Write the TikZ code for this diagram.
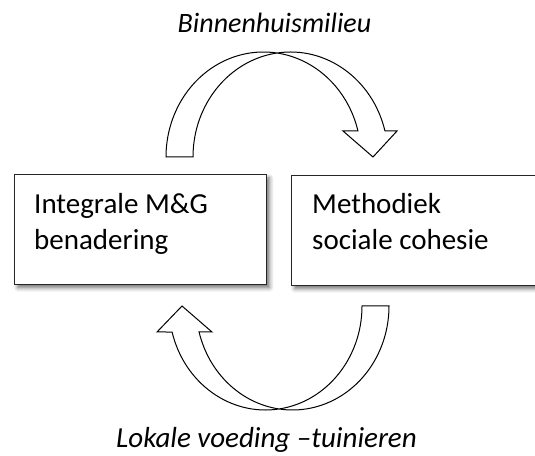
\documentclass[tikz,border=0pt]{standalone}
\usepackage{fontspec}
\setmainfont{Carlito}
\usetikzlibrary{shadows.blur}

\tikzset{
  box/.style={draw=black!85, line width=1.3pt, fill=white, minimum width=252pt, minimum height=110pt,
    inner sep=0pt, anchor=south west,
    blur shadow={shadow xshift=3pt, shadow yshift=-3.5pt, shadow blur radius=4pt, shadow opacity=55}},
  boxtext/.style={align=left, inner sep=0pt, anchor=north west, font=\fontsize{29}{36}\selectfont},
  label/.style={inner sep=0pt, anchor=base, font=\fontsize{28}{34}\selectfont\itshape},
  bentarrow/.style={draw=black, line width=1pt, fill=white, line join=miter}
}

\begin{document}
\begin{tikzpicture}[x=1pt, y=1pt]
  \useasboundingbox (0,0) rectangle (535,455);
  \clip (0,0) rectangle (535,455);

  % the two blocks
  \node[box] (mg) at (14,170) {};
  \node[box, minimum width=260pt] (cohesie) at (291,169) {};
  \node[boxtext] (mgtext) at (34,262) {Integrale M\&G\\benadering};
  \node[boxtext] (cohtext) at (312,262) {Methodiek\\sociale cohesie};

  % curved arrow over the top, from the left block to the right block
  \draw[bentarrow]
    (166,298) arc[start angle=180, end angle=82.04, x radius=97.5, y radius=105]
              arc[start angle=97.96, end angle=14.34, x radius=97.5, y radius=105]
    -- (397,324) -- (373,298) -- (343,324) -- (357.96,324)
              arc[start angle=14.34, end angle=82.04, x radius=97.5, y radius=105]
              arc[start angle=97.96, end angle=180, x radius=97.5, y radius=105]
    -- cycle;

  % curved arrow underneath, from the right block back to the left block
  \draw[bentarrow]
    (389,149) arc[start angle=360, end angle=261.96, x radius=96.5, y radius=104]
              arc[start angle=278.04, end angle=194.48, x radius=96.5, y radius=104]
    -- (157,123) -- (182,149) -- (212,123) -- (199.07,123)
              arc[start angle=194.48, end angle=261.96, x radius=96.5, y radius=104]
              arc[start angle=278.04, end angle=360, x radius=96.5, y radius=104]
    -- cycle;

  % arrow labels
  \node[label] (top) at (274.5,422) {Binnenhuismilieu};
  \node[label, font=\fontsize{29}{35}\selectfont\itshape] (bottom) at (266.5,8) {Lokale voeding –tuinieren};
\end{tikzpicture}
\end{document}
